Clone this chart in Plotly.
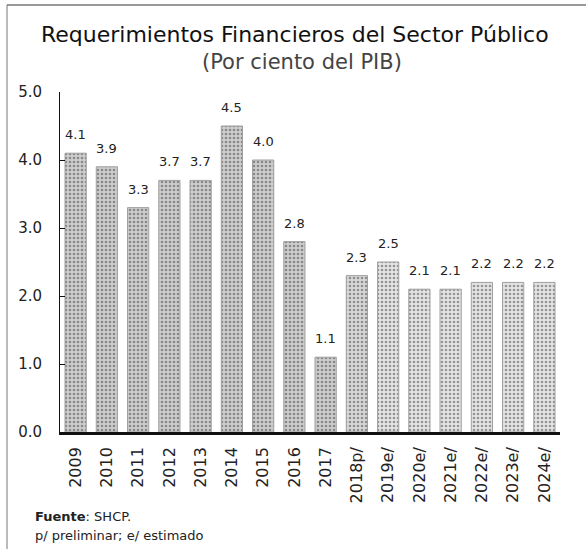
import plotly.graph_objects as go

# Requerimientos Financieros del Sector Público, % del PIB
years = ["2009", "2010", "2011", "2012", "2013", "2014", "2015", "2016", "2017",
         "2018p/", "2019e/", "2020e/", "2021e/", "2022e/", "2023e/", "2024e/"]
rfsp = [4.1, 3.9, 3.3, 3.7, 3.7, 4.5, 4.0, 2.8, 1.1, 2.3, 2.5, 2.1, 2.1, 2.2, 2.2, 2.2]
y_ticks = [0.0, 1.0, 2.0, 3.0, 4.0, 5.0]

FONT = "DejaVu Sans"
TXT = "#222222"

# observed years darker, preliminary/estimated years lighter
bg_colors = []
dot_colors = []
for y in years:
    if y.endswith("e/"):
        bg_colors.append("#e4e4e4")
        dot_colors.append("#808080")
    elif y.endswith("p/"):
        bg_colors.append("#d8d8d8")
        dot_colors.append("#666666")
    else:
        bg_colors.append("#cdcdcd")
        dot_colors.append("#4a4a4a")

fig = go.Figure()
fig.add_trace(go.Bar(
    x=list(range(len(years))), y=rfsp,
    marker=dict(
        color=bg_colors,
        line=dict(color="#a0a0a0", width=1),
        pattern=dict(shape=".", fgcolor=dot_colors, size=4, solidity=0.35,
                     fillmode="overlay"),
    ),
    customdata=years,
    hovertemplate="%{customdata}: %{y:.1f}<extra></extra>",
    showlegend=False,
))

for i, v in enumerate(rfsp):
    fig.add_annotation(x=i, y=v, text=f"{v:.1f}", showarrow=False,
                       yanchor="bottom", yshift=9,
                       font=dict(family=FONT, size=13, color=TXT))

L, R, T, B = 60, 26, 92, 117
W, H = 586, 549
pw, ph = W - L - R, H - T - B


def px_x(X):
    return (X - L) / pw


def px_y(Y):
    return (H - B - Y) / ph


fig.update_layout(
    width=W, height=H,
    margin=dict(l=L, r=R, t=T, b=B),
    paper_bgcolor="white", plot_bgcolor="white",
    bargap=0.32,
    font=dict(family=FONT, color=TXT),
    xaxis=dict(
        range=[-0.5, len(years) - 0.5],
        tickvals=list(range(len(years))), ticktext=years,
        tickangle=-90, showgrid=False, zeroline=False,
        showline=True, linecolor="#111111", linewidth=2.5,
        ticks="", tickfont=dict(size=16, color=TXT),
        ticklabelstandoff=6,
    ),
    yaxis=dict(
        range=[0, 5.0], tickvals=y_ticks, tickformat=".1f",
        showgrid=False, zeroline=False,
        showline=True, linecolor="#111111", linewidth=1,
        ticks="inside", ticklen=5, tickcolor="#111111",
        tickfont=dict(size=15, color=TXT),
        ticklabelstandoff=14,
    ),
    shapes=[
        dict(type="line", xref="paper", yref="paper",
             x0=px_x(7), x1=px_x(586), y0=px_y(5), y1=px_y(5),
             line=dict(color="#777777", width=1.5)),
        dict(type="line", xref="paper", yref="paper",
             x0=px_x(7), x1=px_x(7), y0=px_y(5), y1=px_y(549),
             line=dict(color="#777777", width=1)),
    ],
)

fig.add_annotation(xref="paper", yref="paper", x=px_x(295), y=px_y(35),
                   text="Requerimientos Financieros del Sector Público",
                   showarrow=False, xanchor="center", yanchor="middle",
                   font=dict(family=FONT, size=22, color="#111111"))
fig.add_annotation(xref="paper", yref="paper", x=px_x(302), y=px_y(62),
                   text="(Por ciento del PIB)",
                   showarrow=False, xanchor="center", yanchor="middle",
                   font=dict(family=FONT, size=21, color="#444444"))
fig.add_annotation(xref="paper", yref="paper", x=px_x(33), y=px_y(516),
                   text="<b>Fuente</b>: SHCP.",
                   showarrow=False, xanchor="left", yanchor="middle",
                   font=dict(family=FONT, size=13, color=TXT))
fig.add_annotation(xref="paper", yref="paper", x=px_x(33), y=px_y(535),
                   text="p/ preliminar; e/ estimado",
                   showarrow=False, xanchor="left", yanchor="middle",
                   font=dict(family=FONT, size=13, color=TXT))

fig.write_html("out.html")
